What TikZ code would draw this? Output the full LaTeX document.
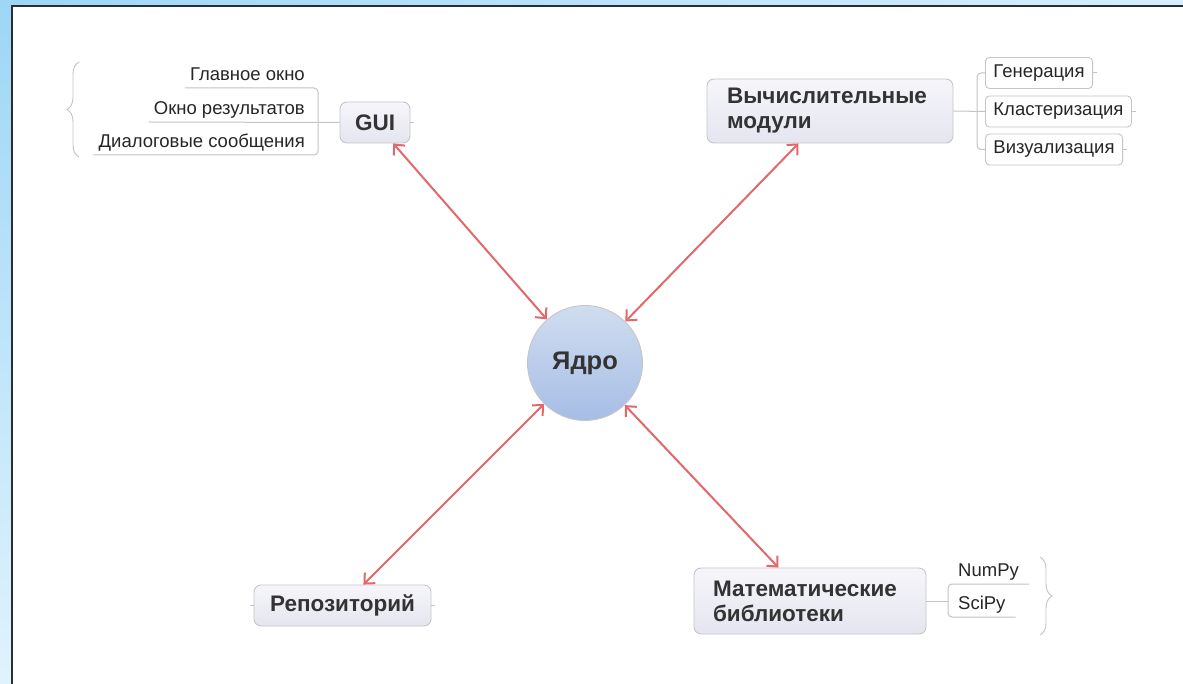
\documentclass[tikz,border=0pt]{standalone}
\usepackage{fontspec}
\setmainfont{Liberation Sans}
\usetikzlibrary{arrows.meta,decorations.pathreplacing,shadings}
\definecolor{linkred}{HTML}{E2686C}
\definecolor{boxline}{HTML}{C6C6CA}
\definecolor{branchgray}{HTML}{C4C4C4}
\definecolor{textgray}{HTML}{333333}
\definecolor{panelline}{HTML}{2A2E33}
\definecolor{skyA}{HTML}{9DD6F6}
\definecolor{skyB}{HTML}{D6EFFC}
\definecolor{skyC}{HTML}{E0F3FD}
\definecolor{topicA}{HTML}{F6F6FA}
\definecolor{topicB}{HTML}{E4E5EF}
\definecolor{coreA}{HTML}{D0DDF0}
\definecolor{coreB}{HTML}{A6BDE5}

\begin{document}
\begin{tikzpicture}[x=1pt,y=-1pt,
  topic/.style={draw=boxline,line width=0.9pt,rounded corners=7pt,top color=topicA,bottom color=topicB,
    text=textgray,font=\fontsize{22.5}{25}\selectfont\bfseries,inner sep=0pt,minimum height=41pt,align=left},
  core/.style={circle,draw=boxline,line width=0.9pt,top color=coreA,bottom color=coreB,minimum size=115pt,
    inner sep=0pt,text=textgray,font=\fontsize{25.5}{28}\selectfont\bfseries},
  subtopic/.style={draw=boxline,line width=0.9pt,rounded corners=4pt,fill=white,minimum height=31pt,
    inner xsep=8pt,inner ysep=0pt,text=black!85,font=\fontsize{18.5}{21}\selectfont},
  leaf/.style={inner xsep=5pt,inner ysep=3pt,text depth=4pt,text=black!85,font=\fontsize{18.5}{21}\selectfont},
  branch/.style={branchgray,line width=1pt},
  summary/.style={branchgray,line width=0.9pt,decorate,decoration={brace,amplitude=12pt}},
  link/.style={linkred,line width=2pt,{Straight Barb[length=8pt,width=15pt]}-{Straight Barb[length=8pt,width=15pt]}}]
\useasboundingbox (0,0) rectangle (1183,684);
\shade[upper left=skyA,upper right=skyB,lower left=skyC,lower right=skyC] (0,0) rectangle (1183,684);
\fill[white] (12,6) rectangle (1183,684);
\draw[panelline,line width=2pt] (12,684) -- (12,6) -- (1183,6);

\node[core] (core) at (585,363) {Ядро};
\node[topic,minimum width=70pt] (gui) at (375,122.5) {GUI};
\node[topic,text width=206pt,inner xsep=20pt,minimum height=64pt] (calc) at (830,111) {Вычислительные\\модули};
\node[topic,minimum width=177pt,align=center] (repo) at (342.5,605.5) {Репозиторий};
\node[topic,text width=194pt,inner xsep=19pt,minimum height=66pt] (math) at (810,601) {Математические\\библиотеки};

\node[leaf,anchor=south east] (mainwin) at (310,88) {Главное окно};
\node[leaf,anchor=south east] (reswin) at (310,122) {Окно результатов};
\node[leaf,anchor=south east] (dialogs) at (310,155) {Диалоговые сообщения};
\coordinate (guijoin) at (318,122);
\draw[branch,rounded corners=4pt] (mainwin.south west) -- (mainwin.south west -| guijoin) -- (dialogs.south west -| guijoin) -- (dialogs.south west);
\draw[branch] (gui.west) -- (reswin.south west);
\draw[summary] (79,157) -- (79,62);

\node[subtopic,anchor=west] (gen) at (985,73) {Генерация};
\node[subtopic,anchor=west] (clust) at (985,111.5) {Кластеризация};
\node[subtopic,anchor=west] (vis) at (985,149.5) {Визуализация};
\coordinate (calcjoin) at (977,111);
\draw[branch,rounded corners=4pt] (gen.west) -- (gen.west -| calcjoin) -- (vis.west -| calcjoin) -- (vis.west);
\draw[branch] (calc.east) -- (clust.west);

\node[leaf,anchor=south west,inner xsep=10pt] (numpy) at (948,584) {NumPy};
\node[leaf,anchor=south west,inner xsep=10pt] (scipy) at (948,617) {SciPy};
\coordinate (mathjoin) at (948,601);
\draw[branch,rounded corners=4pt] (numpy.south east) -- (numpy.south west) -- (scipy.south west) -- (scipy.south east);
\draw[branch] (math.east) -- (mathjoin);
\draw[summary] (1040,557) -- (1040,635);

\draw[branch] (gui.east) -- ++(4,0);
\draw[branch] (repo.west) -- ++(-4,0);
\draw[branch] (repo.east) -- ++(4,0);
\draw[branch] (gen.east) -- ++(4,0);
\draw[branch] (clust.east) -- ++(4,0);
\draw[branch] (vis.east) -- ++(4,0);

\draw[link] (gui) -- (core);
\draw[link] (calc) -- (core);
\draw[link] (repo) -- (core);
\draw[link] (math) -- (core);
\end{tikzpicture}
\end{document}
